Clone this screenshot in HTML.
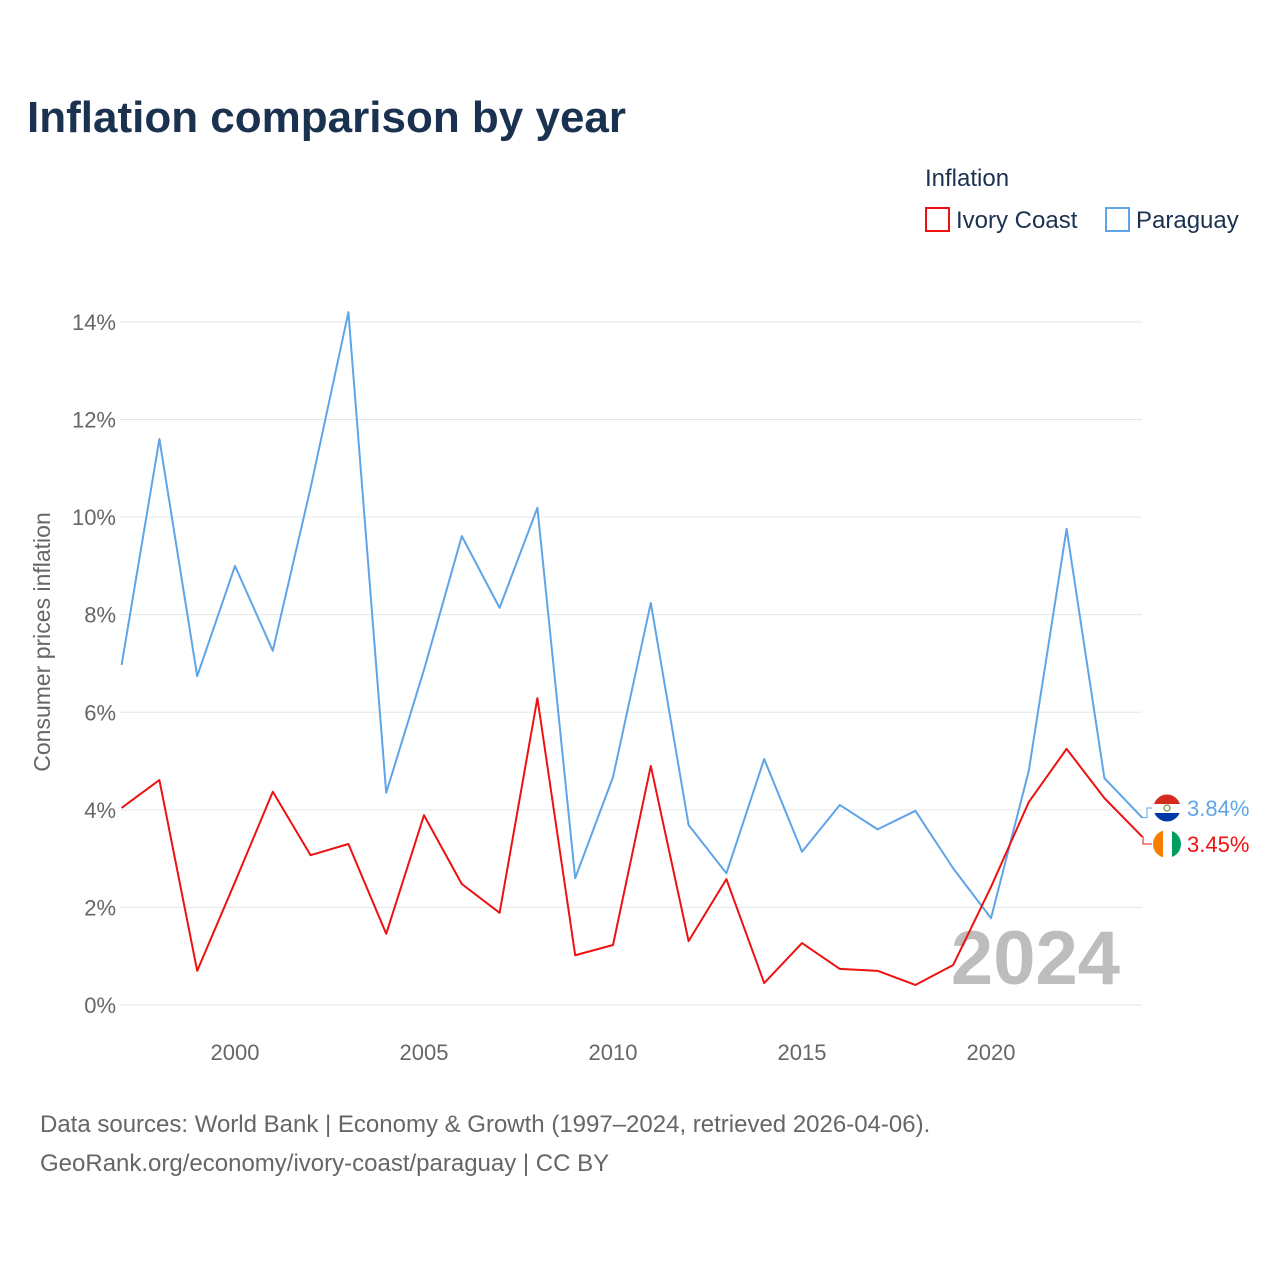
<!DOCTYPE html>
<html><head><meta charset="utf-8">
<style>
body{margin:0;background:#fff;font-family:"Liberation Sans",sans-serif;}
#wrap{position:relative;width:1280px;height:1280px;overflow:hidden;}
</style></head>
<body>
<div id="wrap">
<svg id="chart" width="1280" height="1280" font-family="Liberation Sans, sans-serif">
<defs>
<clipPath id="c1"><circle cx="1167" cy="808" r="14"/></clipPath>
<clipPath id="c2"><circle cx="1167" cy="844" r="14"/></clipPath>
</defs>
<text x="27" y="132" font-size="44" font-weight="bold" fill="#1a3150">Inflation comparison by year</text>
<text x="925" y="186" font-size="24" fill="#1a3150">Inflation</text>
<g>
<rect x="926" y="208" width="23" height="23" fill="none" stroke="#ee1111" stroke-width="2"/>
<text x="956" y="228" font-size="24" fill="#1a3150">Ivory Coast</text></g>
<g>
<rect x="1106" y="208" width="23" height="23" fill="none" stroke="#5ea5e8" stroke-width="2"/>
<text x="1136" y="228" font-size="24" fill="#1a3150">Paraguay</text></g>
<text transform="translate(50,642) rotate(-90)" text-anchor="middle" font-size="23" fill="#666">Consumer prices inflation</text>
<g id="grid"></g><g id="yticks"></g><g id="xticks"></g>
<text x="1120" y="984" text-anchor="end" font-size="76" font-weight="bold" fill="#bdbdbd">2024</text>
<g id="series"></g>
<g clip-path="url(#c1)">
<rect x="1153" y="794" width="28" height="10" fill="#d52b1e"/>
<rect x="1153" y="804" width="28" height="9" fill="#fff"/>
<rect x="1153" y="813" width="28" height="9" fill="#0038a8"/>
<circle cx="1167" cy="808" r="3" fill="none" stroke="#6a9a3a" stroke-width="1.2"/>
</g>
<circle cx="1167" cy="808" r="14" fill="none" stroke="#fff" stroke-width="1"/>
<g clip-path="url(#c2)">
<rect x="1153" y="830" width="10" height="28" fill="#f77f00"/>
<rect x="1163" y="830" width="9" height="28" fill="#fff"/>
<rect x="1172" y="830" width="9" height="28" fill="#009e60"/>
</g>
<text x="40" y="1132" font-size="24" fill="#666">Data sources: World Bank | Economy &amp; Growth (1997–2024, retrieved 2026-04-06).</text>
<text x="40" y="1171" font-size="24" fill="#666">GeoRank.org/economy/ivory-coast/paraguay | CC BY</text>
</svg>
</div>
<script>
const years=[1997,1998,1999,2000,2001,2002,2003,2004,2005,2006,2007,2008,2009,2010,2011,2012,2013,2014,2015,2016,2017,2018,2019,2020,2021,2022,2023,2024];
const paraguay=[6.97,11.6,6.74,9.0,7.26,10.6,14.2,4.35,6.87,9.61,8.14,10.19,2.6,4.67,8.24,3.69,2.7,5.04,3.14,4.1,3.6,3.98,2.8,1.78,4.8,9.76,4.65,3.84];
const ivoryCoast=[4.04,4.61,0.7,2.52,4.37,3.07,3.3,1.46,3.89,2.48,1.89,6.29,1.02,1.23,4.9,1.31,2.58,0.45,1.27,0.74,0.7,0.41,0.82,2.42,4.16,5.25,4.24,3.45];
const yTicks=[0,2,4,6,8,10,12,14];
const xTicks=[2000,2005,2010,2015,2020];
const NS="http://www.w3.org/2000/svg";
const x=v=>121.6+(v-1997)*37.8;
const y=v=>1005-v*48.79;
function mk(t,a,p){const e=document.createElementNS(NS,t);for(const k in a)e.setAttribute(k,a[k]);p.appendChild(e);return e;}
const grid=document.getElementById('grid'),yt=document.getElementById('yticks'),xt=document.getElementById('xticks'),se=document.getElementById('series');
yTicks.forEach(v=>{
 const l=mk('line',{x1:120,x2:1142,y1:y(v),y2:y(v),stroke:'#e6e6e6','stroke-width':1},grid);
 
 
 const t=mk('text',{x:116,y:y(v)+8,'text-anchor':'end','font-size':22,fill:'#666'},yt);
 t.textContent=v+'%';
 
 
});
xTicks.forEach(v=>{
 const t=mk('text',{x:x(v),y:1060,'text-anchor':'middle','font-size':22,fill:'#666'},xt);
 t.textContent=v;
 
 
});
function line(data,color,name){
 const p=mk('polyline',{points:data.map((v,i)=>x(years[i])+','+y(v)).join(' '),fill:'none',stroke:color,'stroke-width':2,'stroke-linejoin':'round'},se);
 
 
}
line(paraguay,'#5ea5e8','paraguay-line');
line(ivoryCoast,'#ee1111','ivory-coast-line');
const lp=paraguay[paraguay.length-1],li=ivoryCoast[ivoryCoast.length-1];
const fy1=808,fy2=844;
const k1=mk('polyline',{points:[x(2024),y(lp),1147,y(lp),1147,fy1,1152,fy1].join(' '),fill:'none',stroke:'#5ea5e8','stroke-width':1},se);


const k2=mk('polyline',{points:[x(2024),y(li),1143,y(li),1143,fy2,1152,fy2].join(' '),fill:'none',stroke:'#ee1111','stroke-width':1},se);


const t1=mk('text',{x:1187,y:fy1+8,'font-size':22,fill:'#5ea5e8'},se);
t1.textContent=lp.toFixed(2)+'%';


const t2=mk('text',{x:1187,y:fy2+8,'font-size':22,fill:'#ee1111'},se);
t2.textContent=li.toFixed(2)+'%';


</script>
</body></html>
